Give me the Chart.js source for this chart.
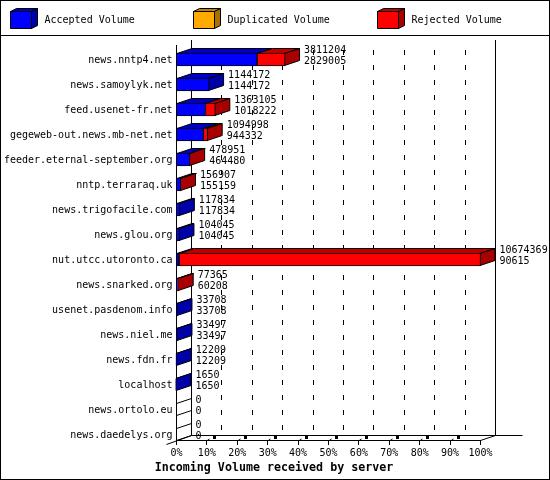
<!DOCTYPE html>
<html>
<head>
<meta charset="utf-8">
<title>Incoming Volume received by server</title>
<script src="https://cdn.jsdelivr.net/npm/chart.js@4"></script>
<style>
    html, body { margin: 0; padding: 0; background: #fff; }
    canvas { display: block; }
</style>
</head>
<body>
<canvas id="volumeChart" width="550" height="480"></canvas>
<script>
// Values
const servers = [
    "news.nntp4.net", "news.samoylyk.net", "feed.usenet-fr.net", "gegeweb-out.news.mb-net.net",
    "feeder.eternal-september.org", "nntp.terraraq.uk", "news.trigofacile.com", "news.glou.org",
    "nut.utcc.utoronto.ca", "news.snarked.org", "usenet.pasdenom.info", "news.niel.me",
    "news.fdn.fr", "localhost", "news.ortolo.eu", "news.daedelys.org"
];
const acceptedVolume = [2829005, 1144172, 1018222, 944332, 464480, 155159, 117834, 104045, 90615, 60208, 33708, 33497, 12209, 1650, 0, 0];
const duplicatedVolume = [0, 0, 0, 0, 0, 0, 0, 0, 0, 0, 0, 0, 0, 0, 0, 0];
const rejectedVolume = [982199, 0, 344883, 150666, 14471, 1748, 0, 0, 10583754, 17157, 0, 0, 0, 0, 0, 0];
const incomingVolume = [3811204, 1144172, 1363105, 1094998, 478951, 156907, 117834, 104045, 10674369, 77365, 33708, 33497, 12209, 1650, 0, 0];
const maxVolume = 10674369;
const tickPercents = [0, 10, 20, 30, 40, 50, 60, 70, 80, 90, 100];
const chartTitle = "Incoming Volume received by server";

const FONT = '"DejaVu Sans Mono", monospace';
const DEPTH_X = 15;
const DEPTH_Y = 5;
const WALL_TOP = 40;
const FLOOR_Y = 440;

const faceColors = {
    "#0000ff": { top: "#0000c0", side: "#0000a8" },
    "#ffaa00": { top: "#c08000", side: "#a87000" },
    "#ff0000": { top: "#c00000", side: "#a80000" }
};

function polygon(ctx, points, fill) {
    ctx.beginPath();
    points.forEach((p, i) => i === 0 ? ctx.moveTo(p[0], p[1]) : ctx.lineTo(p[0], p[1]));
    ctx.closePath();
    if (fill) {
        ctx.fillStyle = fill;
        ctx.fill();
    }
    ctx.strokeStyle = "#000";
    ctx.lineWidth = 1;
    ctx.stroke();
}

function line(ctx, x1, y1, x2, y2) {
    ctx.beginPath();
    ctx.moveTo(x1, y1);
    ctx.lineTo(x2, y2);
    ctx.stroke();
}

// Back wall, floor and axis lines, plus the top and side faces of the bars
const box3d = {
    id: "box3d",
    beforeDatasetsDraw(chart) {
        const ctx = chart.ctx;
        const xScale = chart.scales.x;
        ctx.save();
        ctx.strokeStyle = "#000";
        ctx.lineWidth = 1;

        // dashed grid on the back wall
        ctx.setLineDash([5, 10]);
        xScale.ticks.slice(1, -1).forEach(t => {
            const x = Math.floor(xScale.getPixelForValue(t.value)) + DEPTH_X + 0.5;
            line(ctx, x, 50, x, FLOOR_Y - DEPTH_Y);
        });
        ctx.setLineDash([]);

        // solid frame lines
        const left = Math.floor(xScale.left) + 0.5;
        const right = Math.floor(xScale.right) + 0.5;
        line(ctx, left, WALL_TOP + DEPTH_Y, left, FLOOR_Y + 0.5);
        line(ctx, left + DEPTH_X, WALL_TOP, left + DEPTH_X, FLOOR_Y - DEPTH_Y + 0.5);
        line(ctx, right + DEPTH_X, WALL_TOP, right + DEPTH_X, FLOOR_Y - DEPTH_Y + 0.5);
        line(ctx, left, FLOOR_Y + 0.5, right, FLOOR_Y + 0.5);
        line(ctx, left + DEPTH_X, FLOOR_Y - DEPTH_Y + 0.5, 522.5, FLOOR_Y - DEPTH_Y + 0.5);
        line(ctx, right, FLOOR_Y + 0.5, right + DEPTH_X, FLOOR_Y - DEPTH_Y + 0.5);
        line(ctx, left - 10, FLOOR_Y + 4.5, left + DEPTH_X, FLOOR_Y - DEPTH_Y + 0.5);

        // tick marks under the floor
        xScale.ticks.forEach((t, i) => {
            const x = Math.floor(xScale.getPixelForValue(t.value)) + 0.5;
            line(ctx, x, FLOOR_Y, x, FLOOR_Y + 5);
            if (i > 0 && i < xScale.ticks.length - 1) {
                line(ctx, x, FLOOR_Y + 1, x + 3, FLOOR_Y - 1);
                ctx.fillStyle = "#000";
                ctx.fillRect(x + 6.5, FLOOR_Y - 4, 3, 3);
            }
        });

        // bar faces
        const metas = chart.getSortedVisibleDatasetMetas();
        servers.forEach((name, row) => {
            const first = metas[0].data[row].getProps(["x", "y", "base", "height"], true);
            const top = first.y - first.height / 2 + 0.5;
            const bottom = first.y + first.height / 2 - 0.5;
            let last = null;
            metas.forEach(meta => {
                const el = meta.data[row].getProps(["x", "base"], true);
                if (el.x - el.base < 0.01) return;
                const color = chart.data.datasets[meta.index].backgroundColor;
                polygon(ctx, [[el.base + 0.5, top], [el.base + 0.5 + DEPTH_X, top - DEPTH_Y],
                    [el.x - 0.5 + DEPTH_X, top - DEPTH_Y], [el.x - 0.5, top]], faceColors[color].top);
                last = { x: el.x - 0.5, color: color };
            });
            if (last) {
                polygon(ctx, [[last.x, top], [last.x + DEPTH_X, top - DEPTH_Y],
                    [last.x + DEPTH_X, bottom - DEPTH_Y], [last.x, bottom]], faceColors[last.color].side);
            } else {
                line(ctx, left, top, left + DEPTH_X, top - DEPTH_Y);
                line(ctx, left, bottom, left + DEPTH_X, bottom - DEPTH_Y);
            }
        });
        ctx.restore();
    },
    afterDatasetsDraw(chart) {
        const ctx = chart.ctx;
        const xScale = chart.scales.x;
        const yScale = chart.scales.y;
        ctx.save();
        ctx.fillStyle = "#000";
        ctx.font = "10px " + FONT;
        ctx.textAlign = "left";
        ctx.textBaseline = "middle";
        servers.forEach((name, row) => {
            const x = xScale.getPixelForValue(incomingVolume[row]) + DEPTH_X + 4;
            const y = yScale.getPixelForValue(row);
            ctx.fillText(String(incomingVolume[row]), x, y - 9.5);
            ctx.fillText(String(acceptedVolume[row]), x, y + 1.5);
        });
        ctx.restore();
    },
    afterDraw(chart) {
        const ctx = chart.ctx;
        ctx.save();
        ctx.strokeStyle = "#000";
        ctx.lineWidth = 1;
        ctx.strokeRect(0.5, 0.5, 549, 479);
        line(ctx, 0, 35.5, 550, 35.5);

        // centred on the whole image, not on the plot
        ctx.fillStyle = "#000";
        ctx.font = "bold 11.67px " + FONT;
        ctx.textAlign = "center";
        ctx.textBaseline = "middle";
        ctx.fillText(chartTitle, 274, 467.5);

        // legend with little 3D boxes
        const legendX = [10, 193, 377];
        chart.data.datasets.forEach((ds, i) => {
            const x = legendX[i] + 0.5;
            const colors = faceColors[ds.backgroundColor];
            polygon(ctx, [[x, 11.5], [x + 6, 8.5], [x + 27, 8.5], [x + 21, 11.5]], colors.top);
            polygon(ctx, [[x + 21, 11.5], [x + 27, 8.5], [x + 27, 25.5], [x + 21, 28.5]], colors.side);
            polygon(ctx, [[x, 11.5], [x + 21, 11.5], [x + 21, 28.5], [x, 28.5]], ds.backgroundColor);
            ctx.fillStyle = "#000";
            ctx.font = "10px " + FONT;
            ctx.textAlign = "left";
            ctx.textBaseline = "middle";
            ctx.fillText(ds.label, legendX[i] + 34.5, 20.5);
        });
        ctx.restore();
    }
};

new Chart(document.getElementById("volumeChart").getContext("2d"), {
    type: "bar",
    data: {
        labels: servers,
        datasets: [
            { label: "Accepted Volume", data: acceptedVolume, backgroundColor: "#0000ff" },
            { label: "Duplicated Volume", data: duplicatedVolume, backgroundColor: "#ffaa00" },
            { label: "Rejected Volume", data: rejectedVolume, backgroundColor: "#ff0000" }
        ].map(ds => Object.assign(ds, {
            borderColor: "#000",
            borderWidth: 1,
            borderSkipped: false,
            barThickness: 13
        }))
    },
    options: {
        indexAxis: "y",
        responsive: false,
        animation: false,
        layout: { padding: { top: 47, right: 69.5, left: 0, bottom: 0 } },
        scales: {
            x: {
                stacked: true,
                min: 0,
                max: maxVolume,
                grid: { display: false, drawTicks: false },
                border: { display: false },
                afterFit: axis => { axis.height = 33; },
                afterBuildTicks: axis => {
                    axis.ticks = tickPercents.map(p => ({ value: maxVolume * p / 100 }));
                },
                ticks: {
                    padding: 0,
                    autoSkip: false,
                    maxRotation: 0,
                    color: "#000",
                    font: { family: FONT, size: 10 },
                    callback: (value, i) => tickPercents[i] + "%"
                }
            },
            y: {
                stacked: true,
                grid: { display: false, drawTicks: false },
                border: { display: false },
                afterFit: axis => { axis.width = 176.5; },
                ticks: {
                    padding: 4,
                    labelOffset: 1,
                    autoSkip: false,
                    color: "#000",
                    font: { family: FONT, size: 10 }
                }
            }
        },
        plugins: {
            legend: { display: false },
            tooltip: { enabled: false },
            title: { display: false }
        }
    },
    plugins: [box3d]
});
</script>
</body>
</html>
